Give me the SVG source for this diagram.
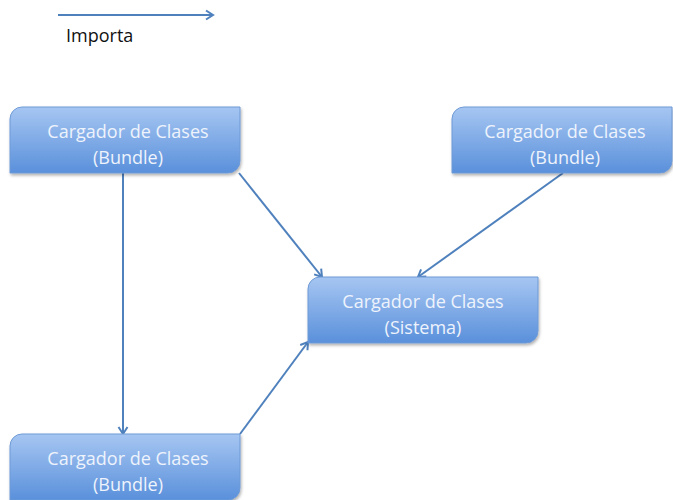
<svg xmlns="http://www.w3.org/2000/svg" width="673" height="500" viewBox="0 0 673 500">
<defs>
<linearGradient id="g" x1="0" y1="0" x2="0" y2="1">
<stop offset="0" stop-color="#a6c6f2"/>
<stop offset="1" stop-color="#5a90db"/>
</linearGradient>
<marker id="arr" markerWidth="12" markerHeight="12" refX="9" refY="6" orient="auto" markerUnits="userSpaceOnUse">
<path d="M2,1.5 L9,6 L2,10.5" fill="none" stroke="#4f81bd" stroke-width="2"/>
</marker>
<filter id="sh" x="-10%" y="-10%" width="130%" height="140%">
<feDropShadow dx="1" dy="2" stdDeviation="1.5" flood-color="#000" flood-opacity="0.3"/>
</filter>
</defs>
<style>
.box{fill:url(#g);stroke:#6f9ad6;stroke-width:1;filter:url(#sh)}
.t{font-family:"Open Sans","Liberation Sans",sans-serif;font-size:18px;fill:#eef3fc;text-anchor:middle}
.c{stroke:#4f81bd;stroke-width:2;fill:none;marker-end:url(#arr)}
</style>
<g id="legend">
<line class="c" x1="58" y1="15" x2="213" y2="15"/>
<text x="66" y="42" font-family="'Open Sans','Liberation Sans',sans-serif" font-size="18" fill="#111">Importa</text>
</g>
<g id="connectors">
<line class="c" x1="123" y1="173" x2="123" y2="434"/>
<line class="c" x1="239" y1="173" x2="322" y2="277"/>
<line class="c" x1="563" y1="173" x2="418" y2="277"/>
<line class="c" x1="240" y1="434" x2="308" y2="342"/>
</g>
<g id="n1">
<path class="box" d="M22,107 H240 V161 A12,12 0 0 1 228,173 H10 V119 A12,12 0 0 1 22,107 Z"/>
<text class="t" x="128" y="138">Cargador de Clases</text>
<text class="t" x="128" y="164">(Bundle)</text>
</g>
<g id="n2">
<path class="box" d="M464,107 H672 V161 A12,12 0 0 1 660,173 H452 V119 A12,12 0 0 1 464,107 Z"/>
<text class="t" x="565" y="138">Cargador de Clases</text>
<text class="t" x="565" y="164">(Bundle)</text>
</g>
<g id="n3">
<path class="box" d="M320,277 H538 V331 A12,12 0 0 1 526,343 H308 V289 A12,12 0 0 1 320,277 Z"/>
<text class="t" x="423" y="308">Cargador de Clases</text>
<text class="t" x="423" y="334">(Sistema)</text>
</g>
<g id="n4">
<path class="box" d="M22,434 H240 V488 A12,12 0 0 1 228,500 H10 V446 A12,12 0 0 1 22,434 Z"/>
<text class="t" x="128" y="465">Cargador de Clases</text>
<text class="t" x="128" y="491">(Bundle)</text>
</g>
</svg>
